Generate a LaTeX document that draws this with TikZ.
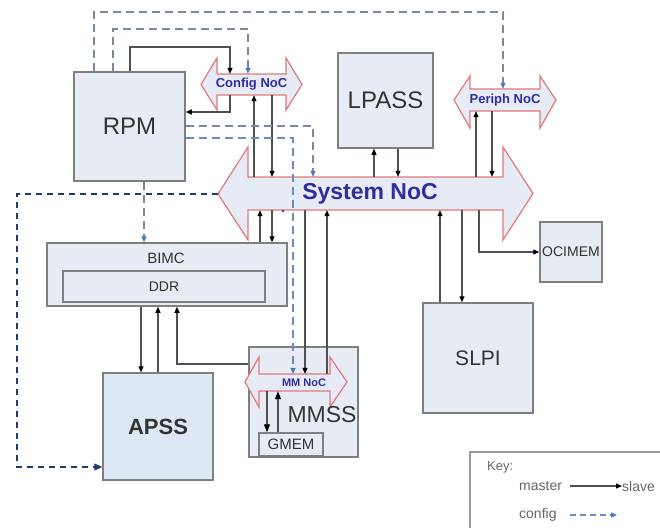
\documentclass[tikz,border=0pt]{standalone}
\usepackage{fontspec}
\setmainfont{Liberation Sans}
\usetikzlibrary{arrows.meta}
\definecolor{boxfill}{HTML}{E6EBF4}
\definecolor{apssfill}{HTML}{DDE8F6}
\definecolor{boxline}{HTML}{7F7F7F}
\definecolor{nocline}{HTML}{E0787E}
\definecolor{nocfill}{HTML}{E6EBF5}
\definecolor{noctext}{HTML}{2E2E9E}
\definecolor{txt}{HTML}{333333}
\definecolor{connclr}{HTML}{505050}
\definecolor{cfgline}{HTML}{7A8A9C}
\definecolor{cfgblue}{HTML}{6A8CC4}
\definecolor{cfgtip}{HTML}{4A78B8}
\definecolor{navyclr}{HTML}{1F3C6C}
\definecolor{keytxt}{HTML}{666666}
\begin{document}
\begin{tikzpicture}[x=1pt,y=-1pt,
  box/.style={draw=boxline, fill=boxfill, line width=1.5pt, inner sep=0pt, text=txt},
  lbl/.style={inner sep=0pt, text=txt},
  nocshape/.style={draw=nocline, fill=nocfill, line width=1.2pt, line join=miter},
  nocnode/.style={inner sep=0pt, text=noctext, font=\bfseries\fontsize{13}{15}\selectfont},
  conn/.style={draw=connclr, line width=1.2pt, -{Triangle[length=6pt,width=5pt,color=black]}},
  cfgconn/.style={draw=cfgline, line width=1.3pt, dash pattern=on 8pt off 5pt, -{Triangle[length=6pt,width=5pt,color=cfgtip]}},
  apssconn/.style={draw=navyclr, line width=1.3pt, dash pattern=on 6pt off 5pt, -{Triangle[length=8pt,width=7pt,color=navyclr]}},
]
\useasboundingbox (0,0) rectangle (660,527);
\fill[white] (0,0) rectangle (660,527);

% boxes
\node[box, minimum width=111pt, minimum height=109pt, font=\fontsize{24}{28}\selectfont] (rpm) at (129.5,126.5) {RPM};
\node[box, minimum width=95pt, minimum height=95pt, font=\fontsize{24}{28}\selectfont] (lpass) at (385.5,100.5) {LPASS};
\node[box, minimum width=240pt, minimum height=63pt] (bimc) at (167,274.5) {};
\node[box, minimum width=202pt, minimum height=31pt, font=\fontsize{14}{16}\selectfont] (ddr) at (164,286.5) {DDR};
\node[lbl, font=\fontsize{15}{17}\selectfont] (bimclbl) at (166,258) {BIMC};
\node[box, fill=apssfill, minimum width=110pt, minimum height=107pt, font=\bfseries\fontsize{22}{26}\selectfont] (apss) at (158,426.5) {APSS};
\node[box, minimum width=109pt, minimum height=110pt] (mmss) at (303.5,402) {};
\node[box, minimum width=110pt, minimum height=110pt, font=\fontsize{21}{25}\selectfont] (slpi) at (478,358) {SLPI};
\node[box, minimum width=62pt, minimum height=60pt] (ocimem) at (571,252) {};
\node[lbl, font=\fontsize{14}{16}\selectfont] (ocitxt) at (571,252) {OCIMEM};

% NoC shapes
\draw[nocshape] (201,84.5) -- (217,58) -- (217,74) -- (286,74) -- (286,58) -- (302,84.5) -- (286,110) -- (286,95) -- (217,95) -- (217,110) -- cycle;
\draw[nocshape] (218,194) -- (248,147) -- (248,177) -- (503,177) -- (503,147) -- (533,193.5) -- (503,240) -- (503,210) -- (248,210) -- (248,240) -- cycle;
\draw[nocshape] (454,100) -- (470,76) -- (470,89) -- (540,89) -- (540,76) -- (556,100) -- (540,128) -- (540,111) -- (470,111) -- (470,128) -- cycle;
\draw[nocshape] (245,382) -- (259,357) -- (259,374) -- (330,374) -- (330,357) -- (347,382) -- (330,407) -- (330,391) -- (259,391) -- (259,407) -- cycle;
\coordinate (sysL) at (218,194);

% NoC shaft nodes
\node[nocnode, minimum width=69pt, minimum height=21pt] (cfg) at (251.5,84.5) {Config NoC};
\node[nocnode, minimum width=255pt, minimum height=33pt] (sys) at (375.5,193.5) {};
\node[nocnode, font=\bfseries\fontsize{23}{27}\selectfont] (systxt) at (370,193.5) {System NoC};
\node[nocnode, minimum width=70pt, minimum height=22pt] (periph) at (505,100) {Periph NoC};
\node[nocnode, minimum width=71pt, minimum height=17pt] (mm) at (294.5,382.5) {};
\node[nocnode, font=\bfseries\fontsize{11}{13}\selectfont] (mmtxt) at (304,382.5) {MM NoC};

% MMSS label and GMEM
\node[lbl, font=\fontsize{23}{27}\selectfont] (mmsstxt) at (322,415) {MMSS};
\node[box, minimum width=64pt, minimum height=23pt, font=\fontsize{15}{17}\selectfont] (gmem) at (291,444.5) {GMEM};

% master -> slave connectors
\draw[conn] (130,0 |- rpm.north) |- (230,47) -- (230,0 |- cfg.north);
\draw[conn] (230,0 |- cfg.south) |- (rpm.east |- 0,112);
\draw[conn] (254,0 |- sys.north) -- (254,0 |- cfg.south);
\draw[conn] (272,0 |- cfg.south) -- (272,0 |- sys.north);
\draw[conn] (260,0 |- bimc.north) -- (260,0 |- sys.south);
\draw[conn] (272,0 |- sys.south) -- (272,0 |- bimc.north);
\draw[conn] (305,0 |- sys.south) -- (305,0 |- mm.north);
\draw[conn] (327,0 |- mm.north) -- (327,0 |- sys.south);
\draw[conn] (374,0 |- sys.north) -- (374,0 |- lpass.south);
\draw[conn] (398,0 |- lpass.south) -- (398,0 |- sys.north);
\draw[conn] (476,0 |- sys.north) -- (476,0 |- periph.south);
\draw[conn] (492,0 |- periph.south) -- (492,0 |- sys.north);
\draw[conn] (440,0 |- slpi.north) -- (440,0 |- sys.south);
\draw[conn] (462,0 |- sys.south) -- (462,0 |- slpi.north);
\draw[conn] (479,0 |- sys.south) |- (ocimem.west |- 0,252);
\draw[conn] (141,0 |- bimc.south) -- (141,0 |- apss.north);
\draw[conn] (158,0 |- apss.north) -- (158,0 |- bimc.south);
\draw[conn] (mmss.west |- 0,364) -| (177,0 |- bimc.south);
\draw[conn, -{Triangle[length=8pt,width=6pt,color=black]}] (267,0 |- mm.south) -- (267,0 |- gmem.north);
\draw[conn, -{Triangle[length=8pt,width=6pt,color=black]}] (278,0 |- gmem.north) -- (278,0 |- mm.south);

% config connectors
\draw[cfgconn] (113,0 |- rpm.north) |- (248,29) -- (248,0 |- cfg.north);
\draw[cfgconn] (94,0 |- rpm.north) |- (503,12) -- (503,0 |- periph.north);
\draw[cfgconn] (rpm.east |- 0,126) -| (313,0 |- sys.north);
\draw[cfgconn, draw=cfgblue] (rpm.east |- 0,138) -| (293,0 |- mm.north);
\draw[cfgconn] (144,0 |- rpm.south) -- (144,0 |- bimc.north);
\draw[apssconn] (sysL) -| (17,467) -- (apss.west |- 0,467);
\fill[noctext!70!magenta] (283,211) circle (1.3pt);

% key
\draw[draw=boxline!80, line width=1.5pt] (470,530) -- (470,452) -- (670,452);
\node[lbl, text=keytxt, font=\fontsize{13}{15}\selectfont, anchor=west] (keyt) at (487,467) {Key:};
\node[lbl, text=keytxt, font=\fontsize{14}{16}\selectfont, anchor=west] (kmaster) at (519,486) {master};
\node[lbl, text=keytxt, font=\fontsize{14}{16}\selectfont, anchor=west] (kslave) at (622,486) {slave};
\node[lbl, text=keytxt, font=\fontsize{14}{16}\selectfont, anchor=west] (kconfig) at (519,515) {config};
\coordinate (km1) at (570,486);
\coordinate (kc1) at (570,515);
\draw[conn] (km1) -- (kslave.west);
\draw[cfgconn, dash pattern=on 6pt off 4pt, draw=cfgblue] (kc1) -- (617,515);
\end{tikzpicture}
\end{document}
